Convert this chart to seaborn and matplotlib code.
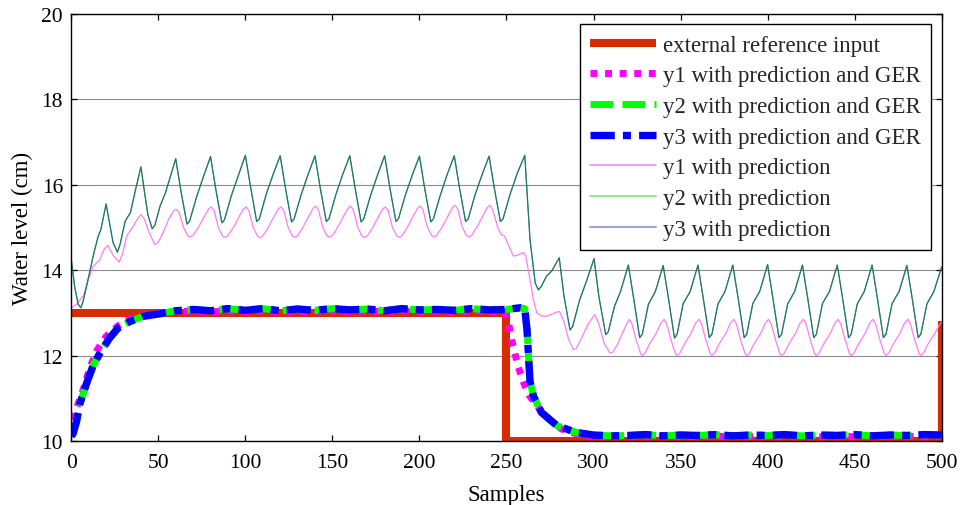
import matplotlib
matplotlib.use("Agg")
import matplotlib.pyplot as plt
import seaborn as sns
import pandas as pd

# ---------------- data ----------------
ref_x = [0, 250, 250, 500, 500]
ref_y = [13, 13, 10, 10, 12.8]

ger1_x = [0, 2, 7, 10.8, 14.6, 20, 27, 35, 45, 60,
          70, 80, 90, 100, 110, 120, 130, 140, 150, 160, 170, 180, 190, 200, 210, 220, 230, 240,
          249, 251, 253, 256.7, 260, 263.5, 270, 275, 281.7, 290,
          300, 310, 320, 330, 340, 350, 360, 370, 380, 390, 400, 410, 420, 430, 440, 450, 460, 470, 480, 490, 500]
ger1_y = [10.5, 10.65, 11.22, 11.73, 12.11, 12.45, 12.7, 12.88, 12.97, 13.03,
          13.04, 13.02, 13.05, 13.03, 13.05, 13.02, 13.04, 13.03, 13.05, 13.02, 13.04, 13.03, 13.05, 13.03, 13.04, 13.02, 13.05, 13.03,
          13.03, 12.8, 12.37, 11.74, 11.35, 11.04, 10.7, 10.49, 10.28, 10.17,
          10.1, 10.1, 10.11, 10.1, 10.12, 10.1, 10.11, 10.1, 10.12, 10.1, 10.11, 10.1, 10.12, 10.1, 10.11, 10.1, 10.12, 10.1, 10.11, 10.1, 10.12]

ger3_x = [0, 1, 3, 5, 8.8, 12.7, 16.5, 22, 27, 33.7, 41.4, 51, 60, 70, 80, 90, 100, 110, 120, 130,
          140, 150, 160, 170, 180, 190, 200, 210, 220, 230, 240, 250, 258, 260.5, 261.8, 263.5, 265.5,
          270, 279, 290, 300, 311, 320, 330, 340, 350, 360, 370, 380, 390, 400, 410, 420, 430, 440,
          450, 460, 470, 480, 490, 500]
ger3_y = [10.12, 10.17, 10.45, 10.88, 11.35, 11.78, 12.06, 12.41, 12.65, 12.8, 12.92, 12.98, 13.05, 13.08, 13.05, 13.1, 13.06, 13.1, 13.05, 13.09,
          13.06, 13.1, 13.07, 13.09, 13.05, 13.1, 13.07, 13.08, 13.06, 13.1, 13.07, 13.08, 13.12, 13.1, 12.6, 11.4, 11.05,
          10.67, 10.36, 10.2, 10.14, 10.12, 10.13, 10.15, 10.12, 10.14, 10.13, 10.15, 10.12, 10.14, 10.13, 10.15, 10.12, 10.14, 10.13,
          10.15, 10.12, 10.14, 10.13, 10.15, 10.14]
ger2_x = list(ger3_x)
ger2_y = [10.12, 10.17, 10.45, 10.88, 11.35, 11.78, 12.06, 12.41, 12.65, 12.8, 12.92, 12.98, 13.05, 13.08, 13.05, 13.1, 13.06, 13.1, 13.05, 13.09,
          13.06, 13.1, 13.07, 13.09, 13.05, 13.1, 13.07, 13.08, 13.06, 13.1, 13.07, 13.08, 13.12, 13.1, 12.6, 11.4, 11.05,
          10.67, 10.36, 10.2, 10.14, 10.12, 10.13, 10.15, 10.12, 10.14, 10.13, 10.15, 10.12, 10.14, 10.13, 10.15, 10.12, 10.14, 10.13,
          10.15, 10.12, 10.14, 10.13, 10.15, 10.14]

pred1_x = [0, 3, 7, 10, 12.7, 16.5, 19, 21, 24, 27.6, 29.5, 31.8, 35.6, 38, 40, 42, 44.5, 48, 50, 53, 56, 59, 60.5,
           62, 64.5, 67, 68.5, 70, 73, 77, 79, 80.5,
           82, 84.5, 87, 88.5, 90, 93, 97, 99, 100.5,
           102, 104.5, 107, 108.5, 110, 113, 117, 119, 120.5,
           122, 124.5, 127, 128.5, 130, 133, 137, 139, 140.5,
           142, 144.5, 147, 148.5, 150, 153, 157, 159, 160.5,
           162, 164.5, 167, 168.5, 170, 173, 177, 179, 180.5,
           182, 184.5, 187, 188.5, 190, 193, 197, 199, 200.5,
           202, 204.5, 207, 208.5, 210, 213, 217, 219, 220.5,
           222, 224.5, 227, 228.5, 230, 233, 237, 239, 240.5,
           242, 245, 247, 249, 251.5, 254, 257, 259.6, 261, 263.5, 265.5, 267.4, 270, 273, 276, 279, 280.5,
           283, 285.5, 288.4, 290, 293, 297, 300.8, 303, 306, 309.4, 311, 314, 318, 320.5,
           322, 324.5, 327, 328, 329.5, 332, 336, 338.5, 340.5,
           342, 344.5, 347, 348, 349.5, 352, 356, 358.5, 360.5,
           362, 364.5, 367, 368, 369.5, 372, 376, 378.5, 380.5,
           382, 384.5, 387, 388, 389.5, 392, 396, 398.5, 400.5,
           402, 404.5, 407, 408, 409.5, 412, 416, 418.5, 420.5,
           422, 424.5, 427, 428, 429.5, 432, 436, 438.5, 440.5,
           442, 444.5, 447, 448, 449.5, 452, 456, 458.5, 460.5,
           462, 464.5, 467, 468, 469.5, 472, 476, 478.5, 480.5,
           482, 484.5, 487, 488, 489.5, 492, 496, 498.5, 500]
pred1_y = [13.12, 13.2, 13.4, 13.8, 14.09, 14.25, 14.5, 14.58, 14.35, 14.19, 14.4, 14.8, 15.03, 15.2, 15.3, 15.2, 14.9, 14.6, 14.65, 14.9, 15.2, 15.4, 15.42,
           15.35, 15.0, 14.8, 14.78, 14.82, 15.0, 15.3, 15.44, 15.48,
           15.4, 15.0, 14.79, 14.77, 14.81, 14.99, 15.3, 15.44, 15.48,
           15.4, 15.0, 14.8, 14.76, 14.8, 14.99, 15.3, 15.44, 15.48,
           15.41, 15.01, 14.8, 14.77, 14.81, 15.0, 15.31, 15.45, 15.5,
           15.41, 15.0, 14.8, 14.77, 14.81, 15.0, 15.31, 15.45, 15.5,
           15.42, 15.01, 14.8, 14.77, 14.8, 14.99, 15.3, 15.44, 15.48,
           15.4, 15.0, 14.8, 14.77, 14.81, 15.0, 15.31, 15.45, 15.5,
           15.42, 15.01, 14.81, 14.78, 14.82, 15.01, 15.32, 15.47, 15.52,
           15.43, 15.02, 14.81, 14.78, 14.82, 15.01, 15.32, 15.47, 15.52,
           15.42, 15.0, 14.83, 14.8, 14.55, 14.33, 14.36, 14.41, 14.35, 13.78, 13.3, 13.0, 12.93, 12.92, 12.97, 13.02, 13.03,
           12.8, 12.4, 12.14, 12.16, 12.4, 12.75, 12.96, 12.75, 12.3, 12.06, 12.08, 12.28, 12.65, 12.85,
           12.75, 12.37, 12.05, 12.0, 12.05, 12.26, 12.52, 12.75, 12.85,
           12.75, 12.37, 12.05, 12.0, 12.05, 12.26, 12.52, 12.75, 12.85,
           12.75, 12.37, 12.05, 12.0, 12.05, 12.26, 12.52, 12.75, 12.85,
           12.75, 12.37, 12.05, 12.0, 12.05, 12.26, 12.52, 12.75, 12.85,
           12.75, 12.37, 12.05, 12.0, 12.05, 12.26, 12.52, 12.75, 12.85,
           12.75, 12.37, 12.05, 12.0, 12.05, 12.26, 12.52, 12.75, 12.85,
           12.75, 12.37, 12.05, 12.0, 12.05, 12.26, 12.52, 12.75, 12.85,
           12.75, 12.37, 12.05, 12.0, 12.05, 12.26, 12.52, 12.75, 12.85,
           12.75, 12.37, 12.05, 12.0, 12.05, 12.26, 12.52, 12.7, 12.78]

pred2_x = [0, 2, 4, 5.5, 7, 10, 13, 15.5, 17, 20,
           22, 24, 26.5, 28, 31, 34, 37, 40,
           42, 44, 46.5, 48, 51, 54, 57, 60,
           63, 66.5, 68, 72, 76, 80,
           83, 86.5, 88, 92, 96, 100,
           103, 106.5, 108, 112, 116, 120,
           123, 126.5, 128, 132, 136, 140,
           143, 146.5, 148, 152, 156, 160,
           163, 166.5, 168, 172, 176, 180,
           183, 186.5, 188, 192, 196, 200,
           203, 206.5, 208, 212, 216, 220,
           223, 226.5, 228, 232, 236, 240,
           243, 246.5, 248, 252, 256, 260.5,
           263.5, 266.5, 268.3, 270, 273, 276, 280.3,
           283, 286.5, 288, 292, 296, 300.3,
           303, 307, 308.5, 312, 315.5, 320,
           323, 326.5, 328, 331.5, 335.5, 340,
           343, 346.5, 348, 351.5, 355.5, 360,
           363, 366.5, 368, 371.5, 375.5, 380,
           383, 386.5, 388, 391.5, 395.5, 400,
           403, 406.5, 408, 411.5, 415.5, 420,
           423, 426.5, 428, 431.5, 435.5, 440,
           443, 446.5, 448, 451.5, 455.5, 460,
           463, 466.5, 468, 471.5, 475.5, 480,
           483, 486.5, 488, 491.5, 495.5, 500]
pred2_y = [14.25, 13.6, 13.2, 13.12, 13.3, 13.85, 14.4, 14.8, 14.95, 15.55,
           15.1, 14.65, 14.42, 14.6, 15.15, 15.35, 15.9, 16.42,
           15.85, 15.3, 14.97, 15.05, 15.5, 15.8, 16.2, 16.61,
           15.85, 15.08, 15.15, 15.72, 16.2, 16.66,
           15.9, 15.11, 15.18, 15.75, 16.22, 16.69,
           15.95, 15.14, 15.2, 15.78, 16.25, 16.68,
           15.93, 15.13, 15.2, 15.76, 16.24, 16.68,
           15.93, 15.14, 15.2, 15.77, 16.25, 16.68,
           15.93, 15.13, 15.2, 15.76, 16.24, 16.68,
           15.93, 15.14, 15.21, 15.77, 16.24, 16.67,
           15.92, 15.13, 15.2, 15.76, 16.25, 16.68,
           15.93, 15.14, 15.2, 15.77, 16.24, 16.67,
           15.92, 15.14, 15.2, 15.77, 16.25, 16.69,
           14.72, 13.7, 13.54, 13.62, 13.86, 13.98, 14.29,
           13.4, 12.6, 12.68, 13.3, 13.75, 14.27,
           13.4, 12.49, 12.56, 13.15, 13.5, 14.12,
           13.35, 12.42, 12.5, 13.2, 13.5, 14.11,
           13.35, 12.41, 12.5, 13.22, 13.5, 14.12,
           13.35, 12.42, 12.5, 13.21, 13.5, 14.12,
           13.36, 12.42, 12.5, 13.22, 13.51, 14.13,
           13.35, 12.42, 12.5, 13.21, 13.5, 14.12,
           13.35, 12.42, 12.5, 13.22, 13.5, 14.12,
           13.36, 12.42, 12.5, 13.21, 13.5, 14.12,
           13.35, 12.42, 12.5, 13.22, 13.5, 14.11,
           13.35, 12.42, 12.5, 13.21, 13.5, 14.08]
pred3_x = list(pred2_x)
pred3_y = list(pred2_y)

labels = ["external reference input", "y1 with prediction and GER", "y2 with prediction and GER",
          "y3 with prediction and GER", "y1 with prediction", "y2 with prediction", "y3 with prediction"]
x_ticks = [0, 50, 100, 150, 200, 250, 300, 350, 400, 450, 500]
y_ticks = [10, 12, 14, 16, 18, 20]

# ---------------- style ----------------
sns.set_theme(style="white")
plt.rcParams["font.family"] = ["Liberation Serif", "DejaVu Serif"]
FS_TICK = 15.5
FS_LAB = 16.5
FS_LEG = 16.5

fig = plt.figure(figsize=(9.63, 5.06), dpi=100)
ax = fig.add_axes([0.0740, 0.1265, 0.9039, 0.8439])


def draw(x, y, **kw):
    df = pd.DataFrame({"x": x, "y": y})
    sns.lineplot(data=df, x="x", y="y", ax=ax, sort=False, estimator=None, legend=False, **kw)


draw(ref_x, ref_y, color="#D92B00", linewidth=5.8, solid_capstyle="butt")
draw(ger1_x, ger1_y, color="#FF00FF", linewidth=5.0, linestyle=(0, (1.0, 1.1)))
draw(ger2_x, ger2_y, color="#00FF00", linewidth=5.0, linestyle=(0, (3.3, 1.3)))
draw(ger3_x, ger3_y, color="#0000FF", linewidth=5.3, linestyle=(0, (3.3, 1.1, 1.1, 1.1)))
draw(pred1_x, pred1_y, color="#FF7BFF", linewidth=0.9)
draw(pred2_x, pred2_y, color="#3A9A5A", linewidth=0.9)
draw(pred3_x, pred3_y, color="#1E6A78", linewidth=0.8, alpha=0.8)

ax.set_xlim(0, 500)
ax.set_ylim(10, 20)
ax.set_xticks(x_ticks)
ax.set_yticks(y_ticks)
ax.set_xticklabels([str(v) for v in x_ticks])
ax.set_yticklabels([str(v) for v in y_ticks])
ax.yaxis.grid(True, color="#8c8c8c", linewidth=0.8, linestyle="-")
ax.xaxis.grid(False)
ax.set_axisbelow(True)
ax.tick_params(direction="in", length=4, width=0.9, top=True, right=True, bottom=True, left=True,
               labelsize=FS_TICK, colors="black", pad=6)
ax.tick_params(axis="x", pad=9)
for s in ax.spines.values():
    s.set_color("black")
    s.set_linewidth(1.0)
ax.set_xlabel("Samples", fontsize=FS_LAB, color="black", labelpad=8)
ax.set_ylabel("Water level (cm)", fontsize=FS_LAB, color="black", labelpad=6)

handles = ax.get_lines()[:7]
leg = ax.legend(handles, labels, loc="upper right", fontsize=FS_LEG, frameon=True, fancybox=False,
                framealpha=1, edgecolor="black", borderaxespad=0.45, handlelength=2.9,
                handletextpad=0.3, labelspacing=0.42, borderpad=0.45)
leg.get_frame().set_linewidth(1.0)
leg_lines = leg.get_lines()
leg_lines[4].set_linewidth(1.1)
leg_lines[5].set_color("#86E886")
leg_lines[5].set_linewidth(1.3)
leg_lines[6].set_color("#96A2D4")
leg_lines[6].set_alpha(1)
leg_lines[6].set_linewidth(1.4)
leg_lines[6].set_linestyle("-")

fig.savefig("out.png", dpi=100, facecolor="white")
